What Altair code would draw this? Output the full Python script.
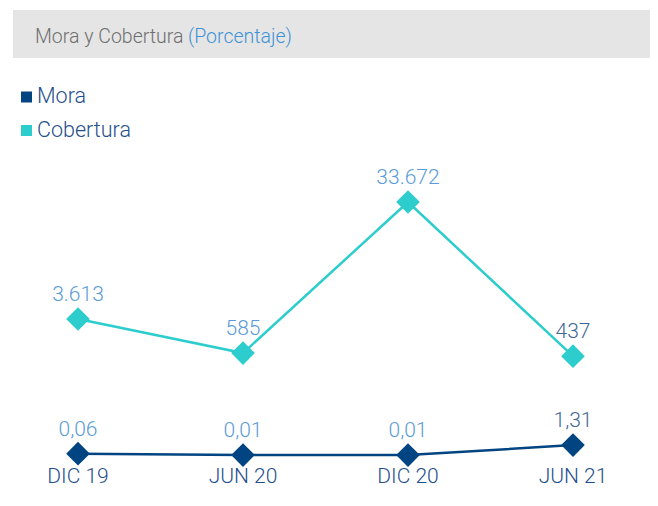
import altair as alt
import pandas as pd

periods = ["DIC 19", "JUN 20", "DIC 20", "JUN 21"]
mora = [0.06, 0.01, 0.01, 1.31]
cobertura = [3613, 585, 33672, 437]
mora_labels = ["0,06", "0,01", "0,01", "1,31"]
cobertura_labels = ["3.613", "585", "33.672", "437"]
series = ["Mora", "Cobertura"]
title_main = "Mora y Cobertura"
title_sub = "(Porcentaje)"

NAVY = "#004481"
AQUA = "#2dcccd"
LBLUE = "#5b9bd8"
DBLUE = "#3f6797"
AXTXT = "#1f4f8c"
FONT = "Roboto"

df_mora = pd.DataFrame({"period": periods, "value": mora, "label": mora_labels})
df_cob = pd.DataFrame({"period": periods, "value": cobertura, "label": cobertura_labels})
df_leg = pd.DataFrame({"series": series})
df_one = pd.DataFrame({"t": [title_main], "s": [title_sub]})

xenc = alt.X("period:N", sort=periods, axis=None,
             scale=alt.Scale(domain=periods, range=[70, 565], padding=0))

y_cob = alt.Y("value:Q", axis=None,
              scale=alt.Scale(type="sqrt", domain=[0, 40000], range=[368, 178.4], zero=True))
y_mora = alt.Y("value:Q", axis=None,
               scale=alt.Scale(type="sqrt", domain=[0, 4], range=[448, 428.9], zero=True))

label_color = alt.condition(alt.datum.period == "JUN 21", alt.value(DBLUE), alt.value(LBLUE))

def series_layers(df, yenc, color):
    base = alt.Chart(df)
    line = base.mark_line(color=color, strokeWidth=2.5).encode(x=xenc, y=yenc)
    pts = base.mark_point(shape="diamond", filled=True, opacity=1, size=560, color=color).encode(x=xenc, y=yenc)
    txt = base.mark_text(font=FONT, fontSize=21, fontWeight=300, dy=-24, baseline="middle").encode(
        x=xenc, y=yenc, text="label:N", color=label_color)
    return alt.layer(line, pts, txt)

cob_layer = series_layers(df_cob, y_cob, AQUA)
mora_layer = series_layers(df_mora, y_mora, NAVY)

xlabels = alt.Chart(df_mora).mark_text(font=FONT, fontSize=21, fontWeight=300, color=AXTXT,
                                       baseline="middle").encode(
    x=xenc, y=alt.value(469), text="period:N")

title_bg = alt.Chart(df_one).mark_rect(color="#e5e5e5").encode(
    x=alt.value(5), x2=alt.value(644), y=alt.value(2), y2=alt.value(50))
title_t1 = alt.Chart(df_one).mark_text(font=FONT, fontSize=19.5, fontWeight=300, color="#6f6f6f",
                                       align="left", baseline="middle").encode(
    x=alt.value(27), y=alt.value(29), text="t:N")
title_t2 = alt.Chart(df_one).mark_text(font=FONT, fontSize=19.5, fontWeight=300, color="#3f92d6",
                                       align="left", baseline="middle").encode(
    x=alt.value(180), y=alt.value(29), text="s:N")

leg_y = alt.Y("series:N", axis=None, scale=alt.Scale(domain=series, range=[89, 122.5], padding=0))
leg_sq = alt.Chart(df_leg).mark_square(size=121, opacity=1).encode(
    x=alt.value(18.5), y=leg_y,
    color=alt.Color("series:N", scale=alt.Scale(domain=series, range=[NAVY, AQUA]), legend=None))
leg_txt = alt.Chart(df_leg).mark_text(font=FONT, fontSize=21.5, fontWeight=300, color=AXTXT,
                                      align="left", baseline="middle").encode(
    x=alt.value(29), y=leg_y, text="series:N")

chart = alt.layer(
    title_bg, title_t1, title_t2, leg_sq, leg_txt, cob_layer, mora_layer, xlabels
).resolve_scale(y="independent", color="independent").properties(
    width=642, height=490, padding=0, autosize=alt.AutoSizeParams(type="none")
).configure_view(stroke=None)

chart.save("out.html", embed_options={"renderer": "svg", "actions": False})
